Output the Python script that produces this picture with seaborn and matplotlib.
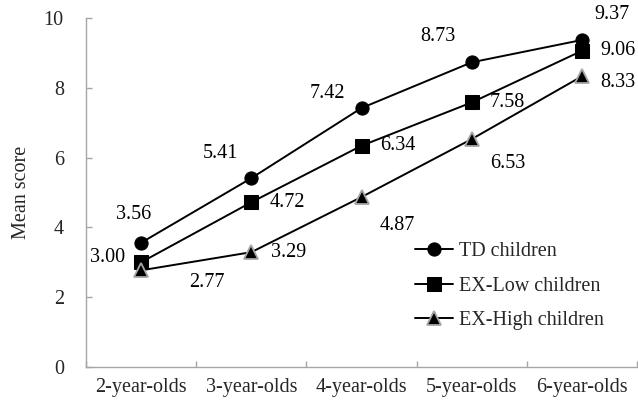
import numpy as np
import pandas as pd
import matplotlib
matplotlib.use('Agg')
import matplotlib.pyplot as plt
from matplotlib.ticker import FixedLocator
import seaborn as sns

# ==========================================
# Data
# ==========================================
AGES = ['2-year-olds', '3-year-olds', '4-year-olds', '5-year-olds', '6-year-olds']
TD = [3.56, 5.41, 7.42, 8.73, 9.37]
EX_LOW = [3.00, 4.72, 6.34, 7.58, 9.06]
EX_HIGH = [2.77, 3.29, 4.87, 6.53, 8.33]
SERIES_NAMES = ['TD children', 'EX-Low children', 'EX-High children']

# label offsets in pixels (dx, dy; dy positive = up)
OFFS_TD = [(-7, 28), (-31, 25), (-34, 15), (-34, 26), (30, 25)]
OFFS_LOW = [(-34, 5), (36, 0), (36, 0), (36, 0), (36, 0)]
OFFS_HIGH = [(66, -12), (37, 0), (36, -28), (36, -24), (36, -6)]

sns.set_theme(style='white')
plt.rcParams['font.family'] = ['Liberation Serif', 'DejaVu Serif']
FS = 14.5
GREY = '#A6A6A6'

fig = plt.figure(figsize=(6.38, 4.03), dpi=100)
ax = fig.add_axes([86 / 638, 36 / 403, 551 / 638, 349 / 403])

styles = [
    dict(marker='o', markersize=9.5, markerfacecolor='black', markeredgecolor='black'),
    dict(marker='s', markersize=9.5, markerfacecolor='black', markeredgecolor='black'),
    dict(marker='^', markersize=10, markerfacecolor='black', markeredgecolor=GREY, markeredgewidth=1.3),
]
all_vals = [TD, EX_LOW, EX_HIGH]
all_offs = [OFFS_TD, OFFS_LOW, OFFS_HIGH]

for name, vals, st in zip(SERIES_NAMES, all_vals, styles):
    df = pd.DataFrame({'age': AGES, 'score': vals})
    sns.lineplot(data=df, x='age', y='score', ax=ax, color='black', linewidth=1.4,
                 label=name, sort=False, **st)

for vals, offs in zip(all_vals, all_offs):
    for i, (v, (dx, dy)) in enumerate(zip(vals, offs)):
        ax.annotate(f'{v:.2f}', (i, v), xytext=(dx, dy), textcoords='offset pixels',
                    ha='center', va='center', fontsize=FS, color='black')

ax.set_xlim(-0.5, 4.5)
ax.set_ylim(0, 10)
ax.set_yticks(np.arange(0, 11, 2))
ax.set_xlabel('')
ax.set_ylabel('Mean score', fontsize=FS, labelpad=9)

for s in ['top', 'right']:
    ax.spines[s].set_visible(False)
for s in ['left', 'bottom']:
    ax.spines[s].set_color(GREY)
    ax.spines[s].set_linewidth(1.0)

ax.tick_params(axis='y', direction='in', length=4.5, color=GREY, width=1.0,
               labelsize=FS, pad=16, left=True)
ax.tick_params(axis='x', which='major', length=0, labelsize=FS, pad=8)
ax.xaxis.set_minor_locator(FixedLocator(np.arange(-0.5, 4.6, 1.0)))
ax.tick_params(axis='x', which='minor', direction='in', length=4, color=GREY, width=1.0, bottom=True)

ax.legend(loc='center left', bbox_to_anchor=(0.597, 0.232), frameon=False, fontsize=FS,
          handlelength=1.9, handletextpad=0.3, labelspacing=0.78, borderpad=0, borderaxespad=0)

fig.savefig('out.png', dpi=100)
